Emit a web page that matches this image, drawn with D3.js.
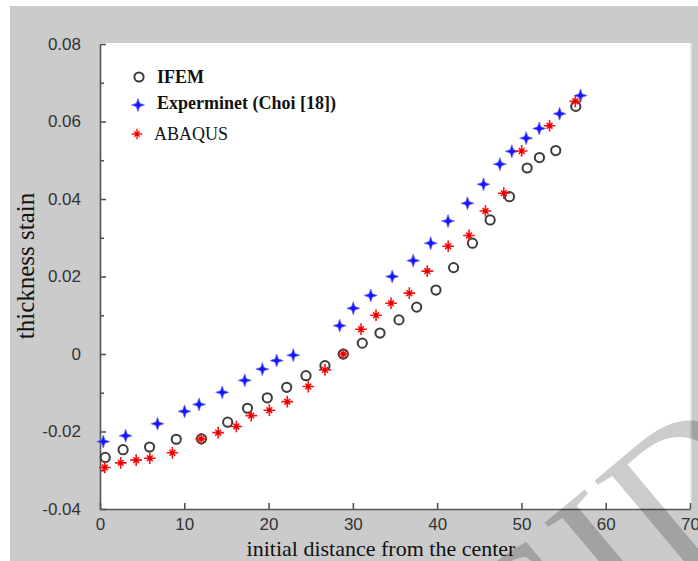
<!DOCTYPE html>
<html>
<head>
<meta charset="utf-8">
<script src="https://cdn.jsdelivr.net/npm/d3@7"></script>
<style>
  body { margin: 0; background: #fff; }
  svg { display: block; }
</style>
</head>
<body>
<svg width="698" height="561"></svg>
<script>
// values

// IFEM (open circles)
const ifemX = [0.62, 2.74, 5.88, 9.05, 12.04, 15.15, 17.5, 19.85, 22.15, 24.44, 26.69, 28.87, 31.12,
    33.22, 35.47, 37.57, 39.86, 41.95, 44.19, 46.29, 48.58, 50.68, 52.14, 54.07, 56.45];
const ifemY = [-0.0267, -0.0247, -0.024, -0.022, -0.0219, -0.0176, -0.014, -0.0113, -0.0086, -0.0056,
    -0.003, 0.0, 0.0028, 0.0054, 0.0088, 0.0121, 0.0165, 0.0223, 0.0286, 0.0346, 0.0406, 0.048,
    0.0507, 0.0525, 0.0639];

// Experminet (Choi [18]) (blue stars)
const expX = [0.39, 3.04, 6.82, 10.03, 11.75, 14.5, 17.17, 19.26, 20.96, 22.93, 28.44, 30.05, 32.12,
    34.67, 37.16, 39.24, 41.29, 43.6, 45.5, 47.44, 48.86, 50.56, 52.11, 54.53, 57.01];
const expY = [-0.0226, -0.0211, -0.018, -0.0148, -0.013, -0.0099, -0.0068, -0.0039, -0.0017, -0.0003,
    0.0073, 0.0118, 0.0151, 0.02, 0.0241, 0.0286, 0.0343, 0.0389, 0.0438, 0.049, 0.0523, 0.0557,
    0.0582, 0.062, 0.0667];

// ABAQUS (red asterisks)
const abaqusX = [0.57, 2.46, 4.29, 5.91, 8.59, 12.01, 14.02, 16.18, 17.94, 20.09, 22.22, 24.71, 26.69,
    28.87, 30.97, 32.75, 34.53, 36.7, 38.83, 41.31, 43.78, 45.73, 47.91, 50.03, 53.34, 56.4];
const abaqusY = [-0.0293, -0.0281, -0.0274, -0.0269, -0.0255, -0.0219, -0.0203, -0.0187, -0.0159,
    -0.0145, -0.0123, -0.0084, -0.0041, 0.0, 0.0064, 0.01, 0.0131, 0.0157, 0.0214, 0.0278, 0.0306,
    0.0369, 0.0415, 0.0524, 0.0589, 0.0652];

const xTicks = [0, 10, 20, 30, 40, 50, 60, 70];
const yTicks = [-0.04, -0.02, 0, 0.02, 0.04, 0.06, 0.08];
const yMinorTicks = [-0.03, -0.01, 0.01, 0.03, 0.05, 0.07];

const legendNames = ["IFEM", "Experminet (Choi [18])", "ABAQUS"];

const svg = d3.select("svg");

// grey figure background and white plot area
svg.append("rect").attr("x", 10).attr("y", 6).attr("width", 688).attr("height", 555).attr("fill", "#cbcbcb");

const x = d3.scaleLinear().domain([0, 70]).range([100, 690]);
const y = d3.scaleLinear().domain([-0.04, 0.08]).range([509, 44]);

svg.append("rect")
    .attr("x", 100).attr("y", 43)
    .attr("width", 591).attr("height", 466)
    .attr("fill", "#fff");
svg.append("line")
    .attr("x1", 691).attr("x2", 691).attr("y1", 43).attr("y2", 509)
    .attr("stroke", "#e4e4e4").attr("stroke-width", 1.5);

// axes
const fmtY = d => d === 0 ? "0" : d.toFixed(2);

const xAxis = svg.append("g")
    .attr("transform", "translate(0,509)")
    .call(d3.axisBottom(x).tickValues(xTicks).tickSizeInner(-6).tickSizeOuter(0).tickPadding(9));

const yAxis = svg.append("g")
    .attr("transform", "translate(100,0)")
    .call(d3.axisLeft(y).tickValues(yTicks).tickFormat(fmtY).tickSizeInner(-6).tickSizeOuter(0).tickPadding(19));

svg.append("g")
    .attr("transform", "translate(100,0)")
    .call(d3.axisLeft(y).tickValues(yMinorTicks).tickFormat("").tickSizeInner(-4).tickSizeOuter(0))
    .call(g => g.select(".domain").remove());

svg.selectAll(".domain, .tick line")
    .attr("stroke", "#555")
    .attr("stroke-width", 1.6);

[xAxis, yAxis].forEach(a => a.selectAll("text")
    .attr("fill", "#333")
    .style("font-family", "'Liberation Sans', Arial, sans-serif")
    .style("font-size", "17px"));

// axis titles
svg.append("text")
    .attr("transform", "translate(34,266) rotate(-90)")
    .attr("text-anchor", "middle")
    .style("font-family", "'Liberation Serif', 'Times New Roman', serif")
    .style("font-size", "25px")
    .attr("fill", "#111")
    .text("thickness stain");

svg.append("text")
    .attr("x", 381).attr("y", 556)
    .attr("text-anchor", "middle")
    .style("font-family", "'Liberation Serif', 'Times New Roman', serif")
    .style("font-size", "22px")
    .attr("fill", "#111")
    .text("initial distance from the center");

// marker shapes
const star4 = {
    draw(ctx, size) {
        const r = Math.sqrt(size), ri = r * 0.36;
        for (let i = 0; i < 8; i++) {
            const a = i * Math.PI / 4 - Math.PI / 2;
            const rr = i % 2 ? ri : r;
            if (i === 0) ctx.moveTo(rr * Math.cos(a), rr * Math.sin(a));
            else ctx.lineTo(rr * Math.cos(a), rr * Math.sin(a));
        }
        ctx.closePath();
    }
};
const asterisk = {
    draw(ctx, size) {
        const r = Math.sqrt(size), d = r * 0.5;
        ctx.moveTo(-r, 0); ctx.lineTo(r, 0);
        ctx.moveTo(0, -r); ctx.lineTo(0, r);
        ctx.moveTo(-d, -d); ctx.lineTo(d, d);
        ctx.moveTo(-d, d); ctx.lineTo(d, -d);
    }
};

const drawCircles = (g, pts) => g.selectAll("circle").data(pts).join("circle")
    .attr("cx", d => x(d[0])).attr("cy", d => y(d[1]))
    .attr("r", 4.6)
    .attr("fill", "none").attr("stroke", "#3c3c3c").attr("stroke-width", 2);

const drawStars = (g, pts) => g.selectAll("path").data(pts).join("path")
    .attr("transform", d => "translate(" + x(d[0]) + "," + y(d[1]) + ")")
    .attr("d", d3.symbol(star4, 42))
    .attr("fill", "#1414ff").attr("stroke", "#6a6aff").attr("stroke-width", 0.8);

const drawAsterisks = (g, pts) => {
    const p = g.selectAll("g").data(pts).join("g")
        .attr("transform", d => "translate(" + x(d[0]) + "," + y(d[1]) + ")");
    p.append("path")
        .attr("d", d3.symbol(asterisk, 34))
        .attr("stroke", "#ff1010").attr("stroke-width", 1.6).attr("fill", "none");
    p.append("circle").attr("r", 2).attr("fill", "#e00000");
};

const ifemPts = ifemX.map((v, i) => [v, ifemY[i]]);
const expPts = expX.map((v, i) => [v, expY[i]]);
const abaqusPts = abaqusX.map((v, i) => [v, abaqusY[i]]);

drawStars(svg.append("g"), expPts);
drawCircles(svg.append("g"), ifemPts);
drawAsterisks(svg.append("g"), abaqusPts);

// legend
const legend = svg.append("g");
legend.append("circle").attr("cx", 139).attr("cy", 77).attr("r", 4.6)
    .attr("fill", "none").attr("stroke", "#3c3c3c").attr("stroke-width", 2);
legend.append("path").attr("transform", "translate(138,105)")
    .attr("d", d3.symbol(star4, 42))
    .attr("fill", "#1414ff").attr("stroke", "#6a6aff").attr("stroke-width", 0.8);
const la = legend.append("g").attr("transform", "translate(137,134)");
la.append("path").attr("d", d3.symbol(asterisk, 28))
    .attr("stroke", "#ff1010").attr("stroke-width", 1.4).attr("fill", "none");
la.append("circle").attr("r", 1.6).attr("fill", "#e00000");

const legendPos = [[157, 83, "bold"], [157, 109, "bold"], [154, 140, "normal"]];
legend.selectAll("text").data(legendNames).join("text")
    .attr("x", (d, i) => legendPos[i][0])
    .attr("y", (d, i) => legendPos[i][1])
    .style("font-family", "'Liberation Serif', 'Times New Roman', serif")
    .style("font-size", "18px")
    .style("font-weight", (d, i) => legendPos[i][2])
    .attr("fill", "#111")
    .text(d => d);

// faint watermark in the corner
svg.append("text")
    .attr("transform", "translate(785,492) rotate(-40)")
    .attr("text-anchor", "end")
    .style("font-family", "'Liberation Serif', 'Times New Roman', serif")
    .style("font-size", "200px")
    .attr("fill", "#000")
    .attr("fill-opacity", 0.2)
    .text("SID");
</script>
</body>
</html>
